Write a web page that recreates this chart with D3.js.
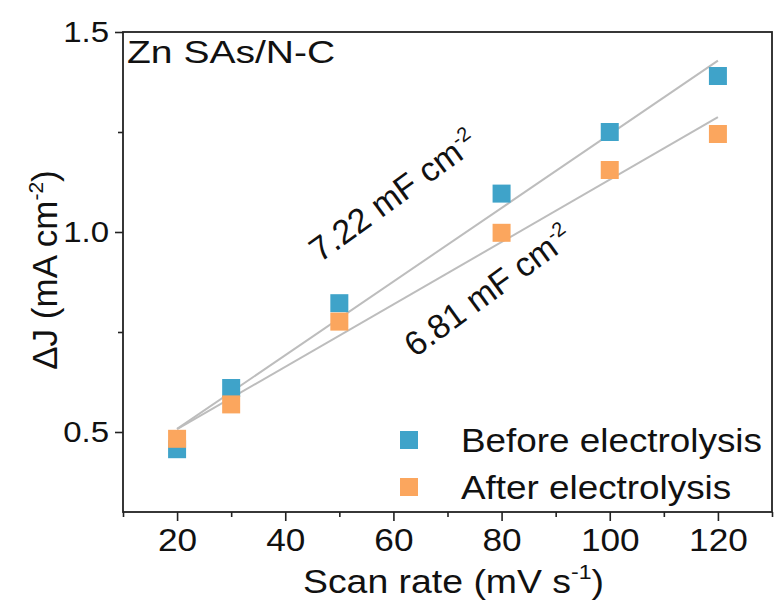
<!DOCTYPE html>
<html>
<head>
<meta charset="utf-8">
<script src="https://cdn.jsdelivr.net/npm/d3@7"></script>
<style>
  html, body { margin: 0; padding: 0; background: #fff; }
  svg text { font-family: "Liberation Sans", Arial, sans-serif; fill: #111; }
</style>
</head>
<body>
<svg id="chart" width="775" height="608"></svg>
<script>
// ---- data ----
const scanRates = [20, 30, 50, 80, 100, 120];
const beforeValues = [0.457, 0.610, 0.822, 1.096, 1.250, 1.390];
const afterValues = [0.483, 0.569, 0.776, 0.998, 1.155, 1.245];
const seriesNames = ["Before electrolysis", "After electrolysis"];
const seriesColors = ["#3fa3c9", "#fba65e"];
const capLabels = ["7.22 mF cm", "6.81 mF cm"];
const xMajorTicks = [20, 40, 60, 80, 100, 120];
const xMinorTicks = [10, 30, 50, 70, 90, 110, 130];
const yMajorTicks = [0.5, 1.0, 1.5];
const yMinorTicks = [0.75, 1.25];

const svg = d3.select("#chart");
svg.append("rect").attr("width", 775).attr("height", 608).attr("fill", "#fff");

const mLeft = 123, mRight = 772, mTop = 32, mBottom = 512;
const SX = 1.1; // horizontal stretch of the lettering
const x = d3.scaleLinear().domain([10, 130]).range([mLeft, mRight]);
const y = d3.scaleLinear().domain([0.3, 1.5]).range([mBottom, mTop]);

// axes
const xAxisMajor = d3.axisBottom(x).tickValues(xMajorTicks).tickSize(9).tickPadding(7).tickFormat(d3.format("d"));
const xAxisMinor = d3.axisBottom(x).tickValues(xMinorTicks).tickSize(5).tickFormat("");
const yAxisMajor = d3.axisLeft(y).tickValues(yMajorTicks).tickSize(8).tickPadding(6).tickFormat(d3.format(".1f"));
const yAxisMinor = d3.axisLeft(y).tickValues(yMinorTicks).tickSize(5).tickFormat("");

function styleAxis(g, size) {
  g.select(".domain").remove();
  g.selectAll(".tick line").attr("stroke", "#222").attr("stroke-width", 1.6);
  g.selectAll(".tick text").attr("font-size", size).attr("font-family", "Liberation Sans, Arial, sans-serif")
    .attr("fill", "#111").attr("transform", `scale(${SX},1)`);
}
svg.append("g").attr("transform", `translate(0,${mBottom})`).call(xAxisMinor).call(styleAxis, 32);
svg.append("g").attr("transform", `translate(0,${mBottom})`).call(xAxisMajor).call(styleAxis, 32);
svg.append("g").attr("transform", `translate(${mLeft},0)`).call(yAxisMinor).call(styleAxis, 30);
const gy = svg.append("g").attr("transform", `translate(${mLeft},0)`).call(yAxisMajor).call(styleAxis, 30);
gy.selectAll(".tick text").attr("x", -14 / SX);

// frame
svg.append("rect").attr("x", mLeft).attr("y", mTop).attr("width", mRight - mLeft).attr("height", mBottom - mTop)
  .attr("fill", "none").attr("stroke", "#222").attr("stroke-width", 1.8);

// linear fits
function fit(xs, ys) {
  const mx = d3.mean(xs), my = d3.mean(ys);
  let sxy = 0, sxx = 0;
  xs.forEach((v, i) => { sxy += (v - mx) * (ys[i] - my); sxx += (v - mx) * (v - mx); });
  const b = sxy / sxx, a = my - b * mx;
  return v => a + b * v;
}
const seriesData = [beforeValues, afterValues];
const line = d3.line().x(d => x(d[0])).y(d => y(d[1]));
seriesData.forEach(vals => {
  const f = fit(scanRates, vals);
  const ends = [scanRates[0], scanRates[scanRates.length - 1]];
  svg.append("path").datum(ends.map(v => [v, f(v)])).attr("d", line)
    .attr("fill", "none").attr("stroke", "#bdbdbd").attr("stroke-width", 2);
});

// markers
const sq = 18;
seriesData.forEach((vals, si) => {
  svg.append("g").selectAll("rect").data(scanRates.map((v, i) => [v, vals[i]])).join("rect")
    .attr("x", d => x(d[0]) - sq / 2).attr("y", d => y(d[1]) - sq / 2)
    .attr("width", sq).attr("height", sq).attr("fill", seriesColors[si]);
});

// axis titles
const xt = svg.append("text").attr("transform", `translate(${(mLeft + mRight) / 2 + 6},593) scale(${SX},1)`)
  .attr("text-anchor", "middle").attr("font-size", 34);
xt.append("tspan").text("Scan rate (mV s");
xt.append("tspan").text("-1").attr("font-size", 21).attr("dy", -14);
xt.append("tspan").text(")").attr("dy", 14);

const yt = svg.append("text").attr("transform", `translate(57,${(mTop + mBottom) / 2 - 2}) rotate(-90)`)
  .attr("text-anchor", "middle").attr("font-size", 35);
yt.append("tspan").text("\u0394J (mA cm");
yt.append("tspan").text("-2").attr("font-size", 21).attr("dy", -14);
yt.append("tspan").text(")").attr("dy", 14);

// sample label
svg.append("text").attr("transform", `translate(${mLeft + 4},63) scale(1.22,1)`).attr("font-size", 32).text("Zn SAs/N-C");

// slope annotations
const capPos = [[320, 263], [415, 358]];
capLabels.forEach((t, i) => {
  const tx = svg.append("text").attr("transform", `translate(${capPos[i][0]},${capPos[i][1]}) rotate(-36)`).attr("font-size", 34);
  tx.append("tspan").text(t);
  tx.append("tspan").text("-2").attr("font-size", 20).attr("dy", -13);
});

// legend
seriesNames.forEach((n, i) => {
  const ly = 440 + i * 47;
  svg.append("rect").attr("x", 400).attr("y", ly - sq / 2).attr("width", sq).attr("height", sq).attr("fill", seriesColors[i]);
  svg.append("text").attr("transform", `translate(461,${ly + 12}) scale(${SX},1)`).attr("font-size", 33.5).text(n);
});
</script>
</body>
</html>
